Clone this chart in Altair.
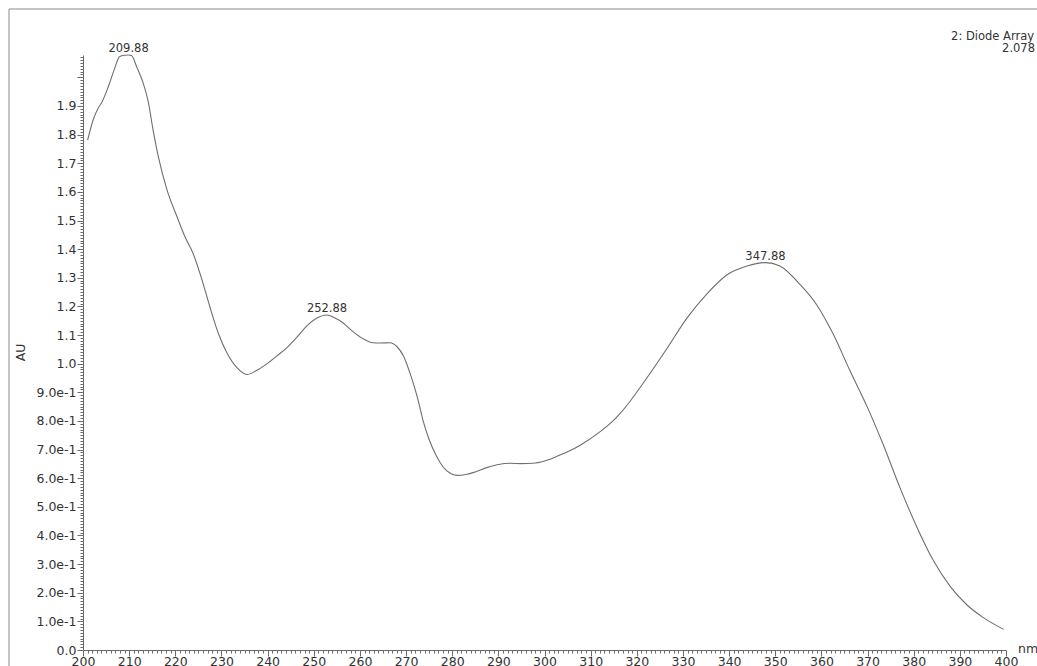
import altair as alt
import pandas as pd

# UV spectrum from the diode-array detector (wavelength in nm, absorbance in AU)
wavelength = [
    201.0, 202.2, 203.3, 204.0, 205.5, 206.9, 207.9, 209.0, 209.88, 210.5,
    211.7, 213.0, 214.1, 215.2, 216.3, 218.2, 220.4, 222.1, 223.8, 225.8,
    227.5, 229.3, 231.2, 233.4, 235.5, 237.5, 239.9, 242.0, 244.2, 246.5,
    248.5, 250.5, 252.88, 254.5, 256.3, 258.5, 260.7, 262.8, 264.5, 266.5,
    268.0, 269.5, 271.0, 272.5, 273.7, 275.0, 276.5, 278.0, 279.5, 281.0,
    283.0, 285.0, 287.5, 290.0, 292.5, 295.0, 297.5, 300.0, 302.5, 305.0,
    308.0, 312.0, 314.5, 316.5, 318.5, 321.3, 326.5, 330.9, 335.2, 339.8,
    343.9, 347.88, 351.0, 355.4, 359.0, 362.5, 366.2, 369.9, 373.3, 377.0,
    380.7, 384.2, 387.9, 391.5, 395.0, 399.5,
]
absorbance = [
    1.781, 1.851, 1.893, 1.910, 1.968, 2.033, 2.072, 2.077, 2.078, 2.076,
    2.034, 1.982, 1.918, 1.815, 1.725, 1.607, 1.512, 1.443, 1.387, 1.292,
    1.198, 1.107, 1.037, 0.985, 0.962, 0.975, 1.000, 1.027, 1.056, 1.095,
    1.132, 1.158, 1.170, 1.160, 1.143, 1.112, 1.087, 1.073, 1.072, 1.073,
    1.060, 1.025, 0.960, 0.880, 0.800, 0.735, 0.680, 0.640, 0.618, 0.610,
    0.613, 0.622, 0.637, 0.648, 0.652, 0.651, 0.652, 0.660, 0.675, 0.692,
    0.718, 0.762, 0.795, 0.828, 0.868, 0.930, 1.052, 1.160, 1.244, 1.313,
    1.341, 1.353, 1.341, 1.276, 1.205, 1.105, 0.975, 0.850, 0.721, 0.568,
    0.429, 0.314, 0.222, 0.158, 0.114, 0.072,
]

# Labelled maxima
peak_nm = [209.88, 252.88, 347.88]
peak_au = [2.078, 1.170, 1.353]

# Axis tick positions (major every 10 nm / 0.1 AU, minor every 1 nm / 0.01 AU)
x_ticks = list(range(200, 401))
y_ticks = [round(i / 100, 2) for i in range(0, 208)]

channel_name = "2: Diode Array"
full_scale = "2.078"

spectrum = pd.DataFrame({"nm": wavelength, "AU": absorbance})
peaks = pd.DataFrame({"nm": peak_nm, "AU": peak_au,
                      "label": [f"{v:.2f}" for v in peak_nm]})
one_row = pd.DataFrame({"k": [0]})

FONT = "DejaVu Sans"
AXIS_GREY = "#6a6a6a"
TEXT = "#333333"

x_scale = alt.Scale(domain=[200, 400], nice=False, zero=False)
y_scale = alt.Scale(domain=[0, 2.078], nice=False, zero=False)

x_axis = alt.Axis(
    values=x_ticks, tickCount=1000,
    labelExpr="datum.value % 10 === 0 ? format(datum.value, 'd') : ''",
    tickSize={"condition": {"test": "datum.value % 10 === 0", "value": 6}, "value": 3},
    labelOverlap=False, labelFlush=False, labelBound=False,
    labelPadding=-1, labelFont=FONT, labelFontSize=12.5, labelColor=TEXT,
    domainColor=AXIS_GREY, tickColor=AXIS_GREY, grid=False, title=None,
)

y_major = "abs(datum.value*10 - round(datum.value*10)) < 1e-6"
y_axis = alt.Axis(
    values=y_ticks, tickCount=1000,
    labelExpr=(
        f"({y_major}) && datum.value < 1.95 ? "
        "(datum.value > 0.999 ? format(datum.value, '.1f') : "
        "(datum.value < 1e-6 ? '0.0' : format(datum.value*10, '.1f') + 'e-1')) : ''"
    ),
    tickSize={"condition": {"test": y_major, "value": 6}, "value": 3},
    labelOverlap=False, labelFlush=False, labelBound=False,
    labelPadding=1, labelFont=FONT, labelFontSize=12.5, labelColor=TEXT,
    domainColor=AXIS_GREY, tickColor=AXIS_GREY, grid=False,
    title="AU", titleFont=FONT, titleFontSize=12.5, titleFontWeight="normal",
    titleColor=TEXT, titleX=-56, titleY=297,
)

line = alt.Chart(spectrum).mark_line(
    color="#6e6e6e", strokeWidth=1.1, interpolate="monotone"
).encode(
    x=alt.X("nm:Q", scale=x_scale, axis=x_axis),
    y=alt.Y("AU:Q", scale=y_scale, axis=y_axis),
)

peak_labels = alt.Chart(peaks).mark_text(
    font=FONT, fontSize=11.5, color=TEXT, baseline="bottom", dy=-1
).encode(
    x=alt.X("nm:Q", scale=x_scale),
    y=alt.Y("AU:Q", scale=y_scale),
    text="label:N",
)

frame = alt.Chart(one_row).mark_rect(
    fill=None, stroke="#8a8a8a", strokeWidth=1
).encode(
    x=alt.value(-74), x2=alt.value(970),
    y=alt.value(-46), y2=alt.value(630),
)

unit = alt.Chart(one_row).mark_text(
    text="nm", font=FONT, fontSize=12.5, color=TEXT, align="left", baseline="alphabetic"
).encode(x=alt.value(935), y=alt.value(598))

channel = alt.Chart(one_row).mark_text(
    text=channel_name, font=FONT, fontSize=11.5, color=TEXT, align="right",
    baseline="alphabetic"
).encode(x=alt.value(951), y=alt.value(-15))

scale_text = alt.Chart(one_row).mark_text(
    text=full_scale, font=FONT, fontSize=11.5, color=TEXT, align="right",
    baseline="alphabetic"
).encode(x=alt.value(952), y=alt.value(-3))

chart = alt.layer(frame, line, peak_labels, unit, channel, scale_text).properties(
    width=923,
    height=595,
    autosize=alt.AutoSizeParams(type="none"),
    padding={"left": 83, "top": 55, "right": 31, "bottom": 16},
    background="white",
).configure_view(stroke=None)

chart.save("out.html", embed_options={"renderer": "svg", "actions": False})
